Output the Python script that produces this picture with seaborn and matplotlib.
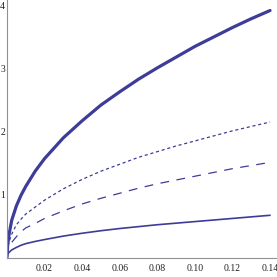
import pandas as pd
import seaborn as sns
import matplotlib.pyplot as plt
from matplotlib.ticker import MultipleLocator, FixedLocator

# values
x_vals = [0, 0.0003, 0.001, 0.0025, 0.005, 0.0075, 0.01, 0.015, 0.02, 0.03, 0.04,
          0.05, 0.06, 0.07, 0.08, 0.09, 0.10, 0.11, 0.12, 0.13, 0.14]
thick = [0, 0.18, 0.35, 0.59, 0.82, 0.99, 1.13, 1.37, 1.57, 1.90, 2.17,
         2.42, 2.63, 2.83, 3.01, 3.18, 3.35, 3.50, 3.65, 3.79, 3.92]
dotted = [0, 0.14, 0.24, 0.37, 0.52, 0.61, 0.69, 0.80, 0.91, 1.09, 1.24,
          1.37, 1.48, 1.59, 1.68, 1.77, 1.85, 1.93, 2.01, 2.08, 2.15]
dashed = [0, 0.09, 0.16, 0.24, 0.33, 0.41, 0.47, 0.54, 0.62, 0.74, 0.85,
          0.94, 1.02, 1.10, 1.17, 1.23, 1.29, 1.35, 1.41, 1.46, 1.51]
thin = [0, 0.05, 0.08, 0.12, 0.16, 0.195, 0.22, 0.255, 0.285, 0.34, 0.385,
        0.425, 0.46, 0.49, 0.52, 0.545, 0.57, 0.595, 0.62, 0.645, 0.67]

x_major = [0.02, 0.04, 0.06, 0.08, 0.10, 0.12, 0.14]
x_labels = ["0.02", "0.04", "0.06", "0.08", "0.10", "0.12", "0.14"]
y_major = [1, 2, 3, 4]

df = pd.DataFrame({"x": x_vals, "thick": thick, "dotted": dotted,
                   "dashed": dashed, "thin": thin})

sns.set_style("white")
plt.rcParams['font.family'] = ['Liberation Serif', 'DejaVu Serif']

color = "#3d3d99"
fig = plt.figure(figsize=(2.77, 2.77), dpi=100)
ax = fig.add_axes([7 / 277, 19.5 / 277, 270 / 277, 257.5 / 277])

sns.lineplot(data=df, x="x", y="thick", ax=ax, color=color, linewidth=2.3)
sns.lineplot(data=df, x="x", y="dotted", ax=ax, color=color, linewidth=0.9,
             dashes=False).lines[-1].set_dashes((2.5, 2.2))
sns.lineplot(data=df, x="x", y="dashed", ax=ax, color=color, linewidth=0.9,
             dashes=False).lines[-1].set_dashes((7, 6))
sns.lineplot(data=df, x="x", y="thin", ax=ax, color=color, linewidth=1.2)

ax.set_xlim(0, 0.1437)
ax.set_ylim(0, 4.087)
ax.set_xlabel("")
ax.set_ylabel("")

for s in ["top", "right"]:
    ax.spines[s].set_visible(False)
for s in ["left", "bottom"]:
    ax.spines[s].set_color("#909090")
    ax.spines[s].set_linewidth(0.8)

ax.xaxis.set_major_locator(FixedLocator(x_major))
ax.set_xticklabels(x_labels)
ax.xaxis.set_minor_locator(MultipleLocator(0.005))
ax.yaxis.set_major_locator(FixedLocator(y_major))
ax.yaxis.set_minor_locator(MultipleLocator(0.2))

ax.tick_params(which="both", direction="in", color="#909090", width=0.7,
               labelsize=7, labelcolor="#222222")
ax.tick_params(which="major", length=3.2)
ax.tick_params(which="minor", length=1.8)
ax.tick_params(axis="x", which="major", pad=5)
ax.tick_params(axis="y", which="major", pad=1.5)

fig.savefig("out.png", dpi=100)
